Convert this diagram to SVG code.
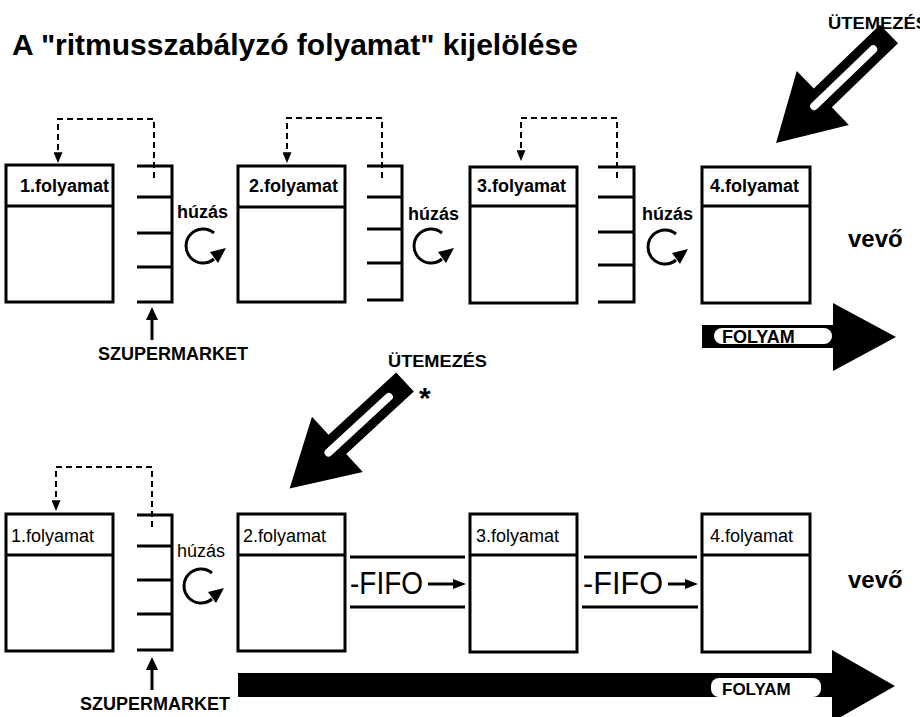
<svg xmlns="http://www.w3.org/2000/svg" width="920" height="717" viewBox="0 0 920 717">
<style>
  .box{fill:#fff;stroke:#000;stroke-width:3}
  .ln{stroke:#000;stroke-width:3;fill:none}
  .dash{stroke:#000;stroke-width:2;fill:none;stroke-dasharray:6 4}
  .hb{font-family:"Liberation Sans",Arial,sans-serif;font-weight:bold;fill:#000}
  .hr{font-family:"Liberation Sans",Arial,sans-serif;fill:#000}
  .circ{stroke:#000;stroke-width:3;fill:none}
  .fifo{font-family:"Liberation Sans",Arial,sans-serif;font-size:32px;fill:#000}
</style>
<defs>
  <marker id="dah" viewBox="0 0 10 12" refX="5" refY="12" markerWidth="9" markerHeight="11" orient="0" markerUnits="userSpaceOnUse">
    <path d="M0,0 L10,0 L5,12 z" fill="#000"/>
  </marker>
  <g id="bigArrow">
    <path d="M0,-13 L92,-13 L92,-37.5 L157,0 L92,37.5 L92,13 L0,13 z" fill="#000"/>
    <line x1="22" y1="0" x2="104" y2="0" stroke="#fff" stroke-width="8" stroke-linecap="round"/>
  </g>
  <g id="pull">
    <path class="circ" d="M12,-13 A17,17 0 1 0 12,13"/>
    <path d="M24,2 L8,6 L16,17 z" fill="#000"/>
  </g>
</defs>
<rect width="920" height="717" fill="#fff"/>

<text class="hb" x="12" y="55" font-size="30">A "ritmusszabályzó folyamat" kijelölése</text>

<!-- Top row -->
<g id="p1-top">
  <rect class="box" x="6" y="165" width="107" height="137"/>
  <line class="ln" x1="6" y1="206" x2="113" y2="206"/>
  <text class="hb" x="20" y="192" font-size="18">1.folyamat</text>
</g>
<g id="sm1-top">
  <path class="ln" d="M137,166 H172 V302 H137 M137,197 H172 M137,233 H172 M137,267 H172"/>
</g>
<g id="p2-top">
  <rect class="box" x="238" y="166" width="107" height="136"/>
  <line class="ln" x1="238" y1="207" x2="345" y2="207"/>
  <text class="hb" x="249" y="192" font-size="18">2.folyamat</text>
</g>
<g id="sm2-top">
  <path class="ln" d="M367,166 H402 V300 H367 M367,197 H402 M367,229 H402 M367,263 H402"/>
</g>
<g id="p3-top">
  <rect class="box" x="470" y="167" width="107" height="136"/>
  <line class="ln" x1="470" y1="206" x2="577" y2="206"/>
  <text class="hb" x="477" y="192" font-size="18">3.folyamat</text>
</g>
<g id="sm3-top">
  <path class="ln" d="M598,167 H634 V302 H598 M598,197 H634 M598,232 H634 M598,265 H634"/>
</g>
<g id="p4-top">
  <rect class="box" x="702" y="167" width="108" height="136"/>
  <line class="ln" x1="702" y1="206" x2="810" y2="206"/>
  <text class="hb" x="710" y="192" font-size="18">4.folyamat</text>
</g>
<g id="vevo-top"><text class="hb" x="848" y="247" font-size="24">vevő</text></g>
<g id="szm-top"><text class="hb" x="98" y="360" font-size="18">SZUPERMARKET</text></g>

<!-- Bottom row -->
<g id="p1-bot">
  <rect class="box" x="6" y="514" width="107" height="137"/>
  <line class="ln" x1="6" y1="555" x2="113" y2="555"/>
  <text class="hr" x="11" y="542" font-size="18">1.folyamat</text>
</g>
<g id="sm1-bot">
  <path class="ln" d="M137,515 H172 V650 H137 M137,546 H172 M137,580 H172 M137,614 H172"/>
</g>
<g id="p2-bot">
  <rect class="box" x="238" y="514" width="107" height="137"/>
  <line class="ln" x1="238" y1="555" x2="345" y2="555"/>
  <text class="hr" x="243" y="542" font-size="18">2.folyamat</text>
</g>
<g id="p3-bot">
  <rect class="box" x="470" y="514" width="107" height="138"/>
  <line class="ln" x1="470" y1="555" x2="577" y2="555"/>
  <text class="hr" x="476" y="542" font-size="18">3.folyamat</text>
</g>
<g id="p4-bot">
  <rect class="box" x="702" y="514" width="108" height="138"/>
  <line class="ln" x1="702" y1="555" x2="810" y2="555"/>
  <text class="hr" x="710" y="542" font-size="18">4.folyamat</text>
</g>
<g id="vevo-bot"><text class="hb" x="848" y="588" font-size="24">vevő</text></g>
<g id="szm-bot"><text class="hb" x="80" y="710" font-size="18">SZUPERMARKET</text></g>

<g id="connectors">
  <!-- dashed kanban loops -->
  <path class="dash" d="M154,178 V119 H58 V163" marker-end="url(#dah)"/>
  <path class="dash" d="M382,178 V118 H287 V163" marker-end="url(#dah)"/>
  <path class="dash" d="M617,178 V118 H521 V161" marker-end="url(#dah)"/>
  <path class="dash" d="M152,527 V467 H56 V511" marker-end="url(#dah)"/>

  <!-- supermarket pointer arrows -->
  <line class="ln" x1="152" y1="340" x2="152" y2="318" stroke-width="2.5"/>
  <path d="M146,320 L152,307 L158,320 z" fill="#000"/>
  <line class="ln" x1="152" y1="690" x2="152" y2="668" stroke-width="2.5"/>
  <path d="M146,670 L152,657 L158,670 z" fill="#000"/>

  <!-- pull labels and circular arrows -->
  <text class="hb" x="177" y="218" font-size="18">húzás</text>
  <use href="#pull" transform="translate(202,246)"/>
  <text class="hb" x="408" y="220" font-size="18">húzás</text>
  <use href="#pull" transform="translate(430,246)"/>
  <text class="hb" x="642" y="220" font-size="18">húzás</text>
  <use href="#pull" transform="translate(664,247)"/>
  <text class="hr" x="177" y="557" font-size="18">húzás</text>
  <use href="#pull" transform="translate(200,586)"/>

  <!-- FIFO lanes -->
  <line class="ln" x1="350" y1="557" x2="465" y2="557"/>
  <line class="ln" x1="350" y1="607" x2="465" y2="607"/>
  <text class="fifo" x="350" y="594" textLength="73" lengthAdjust="spacingAndGlyphs">-FIFO</text>
  <line class="ln" x1="428" y1="584" x2="456" y2="584"/>
  <path d="M453,579 L466,584 L453,589 z" fill="#000"/>

  <line class="ln" x1="584" y1="557" x2="697" y2="557"/>
  <line class="ln" x1="582" y1="607" x2="698" y2="607"/>
  <text class="fifo" x="583" y="594" textLength="80" lengthAdjust="spacingAndGlyphs">-FIFO</text>
  <line class="ln" x1="668" y1="584" x2="688" y2="584"/>
  <path d="M685,579 L698,584 L685,589 z" fill="#000"/>

  <!-- flow arrows -->
  <path d="M702,325 H833 V303 L896,337 L833,371 V348 H702 z" fill="#000"/>
  <rect x="714" y="328" width="118" height="16" rx="8" fill="#fff"/>
  <text class="hb" x="722" y="343" font-size="18">FOLYAM</text>

  <path d="M238,673 H832 V650 L895,686 L832,722 V697 H238 z" fill="#000"/>
  <rect x="711" y="678" width="110" height="19" rx="8" fill="#fff"/>
  <text class="hb" x="722" y="695" font-size="17">FOLYAM</text>

  <!-- scheduling arrows -->
  <text class="hb" x="828" y="29" font-size="17" textLength="100" lengthAdjust="spacingAndGlyphs">ÜTEMEZÉS</text>
  <use href="#bigArrow" transform="translate(889,34) rotate(136)"/>
  <text class="hb" x="388" y="367" font-size="17" textLength="99" lengthAdjust="spacingAndGlyphs">ÜTEMEZÉS</text>
  <text class="hb" x="419" y="408" font-size="30">*</text>
  <use href="#bigArrow" transform="translate(405,382) rotate(137.3)"/>
</g>
</svg>
